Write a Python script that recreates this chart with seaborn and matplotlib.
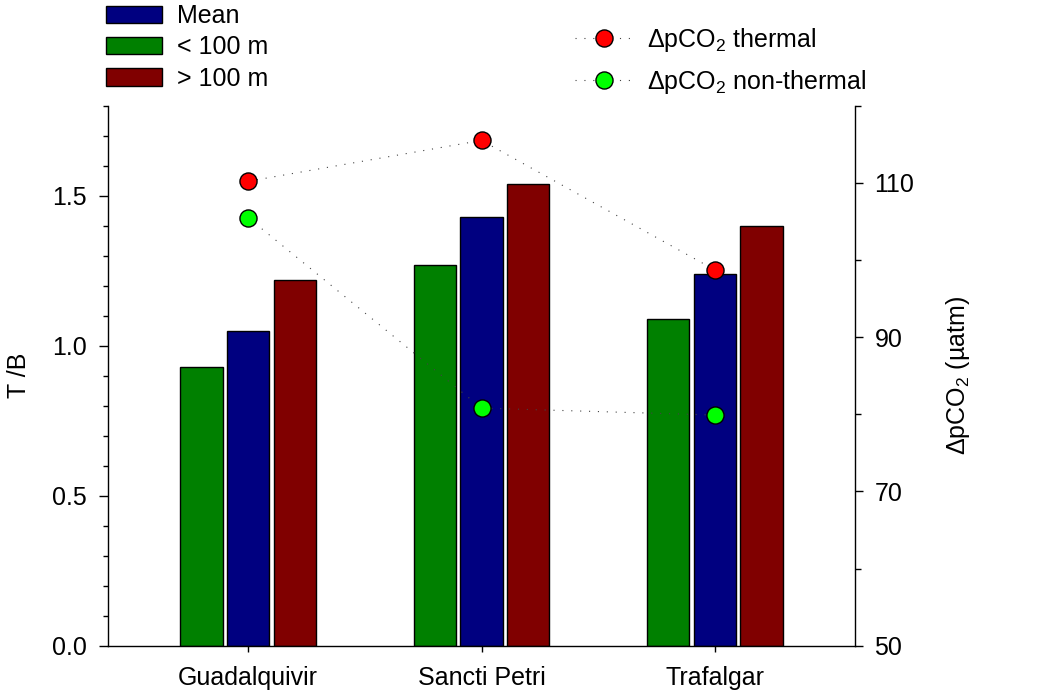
import numpy as np
import pandas as pd
import matplotlib
matplotlib.use("Agg")
import matplotlib.pyplot as plt
import seaborn as sns
from matplotlib.lines import Line2D
from matplotlib.patches import Patch
from matplotlib.ticker import MultipleLocator, FixedLocator, FormatStrFormatter

# --- data -------------------------------------------------------------
sites = ["Guadalquivir", "Sancti Petri", "Trafalgar"]
tb_shallow = [0.93, 1.27, 1.09]   # T/B, < 100 m
tb_mean = [1.05, 1.43, 1.24]      # T/B, mean
tb_deep = [1.22, 1.54, 1.40]      # T/B, > 100 m
dpco2_thermal = [110.2, 115.5, 98.7]
dpco2_nonthermal = [105.5, 80.8, 79.9]

depth_groups = ["< 100 m", "Mean", "> 100 m"]
legend_order = ["Mean", "< 100 m", "> 100 m"]
bar_colors = {"< 100 m": "#008000", "Mean": "#000080", "> 100 m": "#800000"}

df = pd.DataFrame({
    "site": sites * 3,
    "group": np.repeat(depth_groups, len(sites)),
    "tb": tb_shallow + tb_mean + tb_deep,
})

# --- style ------------------------------------------------------------
sns.set_style("ticks")
plt.rcParams["font.family"] = ["Liberation Sans", "DejaVu Sans"]
plt.rcParams["mathtext.default"] = "regular"
plt.rcParams["font.size"] = 18
plt.rcParams["axes.linewidth"] = 1.0
for key in ["text.color", "axes.labelcolor", "xtick.color", "ytick.color",
            "axes.edgecolor", "xtick.labelcolor", "ytick.labelcolor"]:
    plt.rcParams[key] = "black"

fig = plt.figure(figsize=(10.45, 6.98), dpi=100)
ax = fig.add_axes([108 / 1045, 1 - 645.7 / 698, 747 / 1045, 540 / 698])

sns.barplot(data=df, x="site", y="tb", hue="group", hue_order=depth_groups,
            order=sites, palette=bar_colors, saturation=1, errorbar=None,
            width=0.6, gap=0.09, edgecolor="black", linewidth=1.0,
            legend=False, ax=ax)

ax.set_xlim(-0.6, 2.6)
ax.set_ylim(0, 1.8)
ax.yaxis.set_major_locator(MultipleLocator(0.5))
ax.yaxis.set_minor_locator(MultipleLocator(0.1))
ax.yaxis.set_major_formatter(FormatStrFormatter("%.1f"))
ax.set_xlabel("")
ax.set_ylabel("T /B", fontsize=18)
ax.yaxis.set_label_coords(-0.119, 0.5)
ax.yaxis.label.set_va("center")
ax.spines["top"].set_visible(False)
ax.spines["right"].set_visible(False)
ax.tick_params(axis="y", which="major", direction="out", length=6.5, width=1,
               pad=9, labelsize=18, color="black")
ax.tick_params(axis="y", which="minor", direction="out", length=3.5, width=1,
               color="black")
ax.tick_params(axis="x", direction="out", length=4.5, width=1, pad=10,
               labelsize=18, color="black")

# --- delta pCO2 on the secondary axis ---------------------------------
ax2 = ax.twinx()
xpos = np.arange(len(sites))
dot_style = dict(ls=(0, (1, 7)), lw=0.8, color="#444444", marker="o",
                 ms=12.3, mec="black", mew=1.0)
ax2.plot(xpos, dpco2_thermal, mfc="#ff0000", **dot_style)
ax2.plot(xpos, dpco2_nonthermal, mfc="#00ff00", **dot_style)
ax2.set_ylim(50, 120)
ax2.yaxis.set_major_locator(FixedLocator([50, 70, 90, 110]))
ax2.yaxis.set_minor_locator(FixedLocator([60, 80, 100, 120]))
ax2.set_ylabel("\u0394pCO$_2$ (\u00b5atm)", fontsize=18)
ax2.yaxis.set_label_coords(1.138, 0.5)
ax2.yaxis.label.set_va("center")
for side in ["top", "left", "bottom"]:
    ax2.spines[side].set_visible(False)
ax2.tick_params(axis="y", which="major", direction="out", length=6, width=1,
                pad=8, labelsize=18, color="black")
ax2.tick_params(axis="y", which="minor", direction="out", length=4, width=1,
                color="black")

# --- legends ----------------------------------------------------------
bar_handles = [Patch(facecolor=bar_colors[g], edgecolor="black", linewidth=1.0,
                     label=g) for g in legend_order]
fig.legend(handles=bar_handles, loc="upper left",
           bbox_to_anchor=(106 / 1045, 1 - 4 / 698), frameon=False,
           borderpad=0, borderaxespad=0, handlelength=2.24,
           handletextpad=0.6, labelspacing=0.29, fontsize=18)

pt_handles = [
    Line2D([], [], mfc="#ff0000", label="\u0394pCO$_2$ thermal", **dot_style),
    Line2D([], [], mfc="#00ff00", label="\u0394pCO$_2$ non-thermal", **dot_style),
]
fig.legend(handles=pt_handles, loc="upper left",
           bbox_to_anchor=(575 / 1045, 1 - 26 / 698), frameon=False,
           borderpad=0, borderaxespad=0, handlelength=2.28,
           handletextpad=0.6, labelspacing=0.55, fontsize=18,
           numpoints=1)

fig.savefig("out.png", dpi=100)
